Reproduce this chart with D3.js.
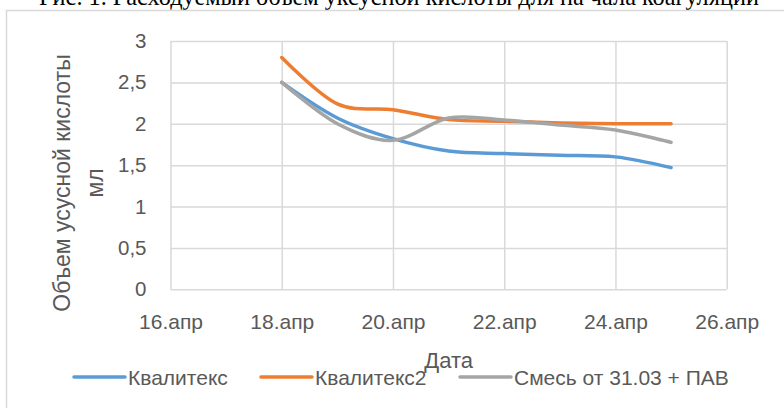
<!DOCTYPE html>
<html>
<head>
<meta charset="utf-8">
<script src="https://cdn.jsdelivr.net/npm/d3@7"></script>
<style>
  html, body { margin: 0; padding: 0; background: #fff; }
  svg { display: block; }
</style>
</head>
<body>
<svg id="chart" width="784" height="408"></svg>
<script>
// Measurement days (April) and the acetic acid volume used, ml
const days = ["2021-04-18", "2021-04-19", "2021-04-20", "2021-04-21", "2021-04-22", "2021-04-23", "2021-04-24", "2021-04-25"];
const kvalitex  = [2.5, 2.07, 1.82, 1.67, 1.64, 1.62, 1.60, 1.47];
const kvalitex2 = [2.8, 2.24, 2.17, 2.05, 2.03, 2.01, 2.0, 2.0];
const smes      = [2.5, 2.0, 1.8, 2.07, 2.045, 1.985, 1.925, 1.775];

const seriesNames = ["Квалитекс", "Квалитекс2", "Смесь от 31.03 + ПАВ"];
const seriesColors = ["#5B9BD5", "#ED7D31", "#A5A5A5"];

const xTickDays = ["2021-04-16", "2021-04-18", "2021-04-20", "2021-04-22", "2021-04-24", "2021-04-26"];
const xTickLabels = ["16.апр", "18.апр", "20.апр", "22.апр", "24.апр", "26.апр"];
const yTicks = [0, 0.5, 1, 1.5, 2, 2.5, 3];
const yTickLabels = ["0", "0,5", "1", "1,5", "2", "2,5", "3"];

const titleText = "Рис. 1. Расходуемый объем уксусной кислоты для на чала коагуляции";
const yTitleLines = ["Объем усусной кислоты", "мл"];
const xTitle = "Дата";

const parse = d3.utcParse("%Y-%m-%d");
const svg = d3.select("#chart");
const sans = "'Liberation Sans', Arial, sans-serif";

const plot = { left: 170.5, right: 726.7, top: 41, bottom: 289.3 };

const x = d3.scaleUtc()
  .domain([parse(xTickDays[0]), parse(xTickDays[xTickDays.length - 1])])
  .range([plot.left, plot.right]);
const y = d3.scaleLinear().domain([0, 3]).range([plot.bottom, plot.top]);

// caption above the chart frame
svg.append("text")
  .attr("x", 399).attr("y", 5)
  .attr("text-anchor", "middle")
  .attr("font-family", "'Liberation Serif', 'Times New Roman', serif")
  .attr("font-size", 24.3)
  .attr("fill", "#000")
  .text(titleText);

// chart frame
svg.append("rect")
  .attr("x", 6.5).attr("y", 10.5)
  .attr("width", 820).attr("height", 420)
  .attr("fill", "none")
  .attr("stroke", "#d9d9d9")
  .attr("stroke-width", 1.5);

// horizontal gridlines
svg.append("g")
  .attr("transform", `translate(${plot.left},0)`)
  .call(d3.axisLeft(y).tickValues(yTicks).tickSize(-(plot.right - plot.left)).tickFormat(""))
  .call(g => g.select(".domain").remove())
  .call(g => g.selectAll("line").attr("stroke", "#d9d9d9").attr("stroke-width", 1.5));

// vertical gridlines
svg.append("g")
  .attr("transform", `translate(0,${plot.bottom})`)
  .call(d3.axisBottom(x).tickValues(xTickDays.map(parse)).tickSize(-(plot.bottom - plot.top)).tickFormat(""))
  .call(g => g.select(".domain").remove())
  .call(g => g.selectAll("line").attr("stroke", "#d9d9d9").attr("stroke-width", 1.5));

// y tick labels
svg.append("g")
  .attr("transform", `translate(${plot.left},0)`)
  .call(d3.axisLeft(y).tickValues(yTicks).tickSize(0).tickPadding(24)
    .tickFormat((d, i) => yTickLabels[i]))
  .call(g => g.select(".domain").remove())
  .call(g => g.selectAll("text")
    .attr("font-family", sans).attr("font-size", 20.5).attr("fill", "#595959"));

// x tick labels
svg.append("g")
  .attr("transform", `translate(0,${plot.bottom})`)
  .call(d3.axisBottom(x).tickValues(xTickDays.map(parse)).tickSize(0).tickPadding(25)
    .tickFormat((d, i) => xTickLabels[i]))
  .call(g => g.select(".domain").remove())
  .call(g => g.selectAll("text")
    .attr("font-family", sans).attr("font-size", 21).attr("fill", "#595959"));

// axis titles
const yTitle = svg.append("text")
  .attr("transform", "translate(70,183) rotate(-90)")
  .attr("text-anchor", "middle")
  .attr("font-family", sans).attr("font-size", 23).attr("fill", "#595959");
yTitleLines.forEach((t, i) => {
  yTitle.append("tspan").attr("x", 0).attr("dy", i === 0 ? 0 : 33).text(t);
});

svg.append("text")
  .attr("x", (plot.left + plot.right) / 2).attr("y", 368)
  .attr("text-anchor", "middle")
  .attr("font-family", sans).attr("font-size", 22).attr("fill", "#595959")
  .text(xTitle);

// series lines
const allSeries = [kvalitex, kvalitex2, smes];
const line = d3.line()
  .x((d, i) => x(parse(days[i])))
  .y(d => y(d))
  .curve(d3.curveCatmullRom.alpha(0));

svg.append("g").selectAll("path")
  .data(allSeries)
  .join("path")
  .attr("d", d => line(d))
  .attr("fill", "none")
  .attr("stroke", (d, i) => seriesColors[i])
  .attr("stroke-width", 3.5)
  .attr("stroke-linecap", "round")
  .attr("stroke-linejoin", "round");

// legend
const legendX = [74, 261, 460];
const legend = svg.append("g").attr("transform", "translate(0,377)");
seriesNames.forEach((name, i) => {
  legend.append("line")
    .attr("x1", legendX[i]).attr("x2", legendX[i] + 51)
    .attr("y1", 0).attr("y2", 0)
    .attr("stroke", seriesColors[i]).attr("stroke-width", 3.5)
    .attr("stroke-linecap", "round");
  legend.append("text")
    .attr("x", legendX[i] + 54).attr("y", 7.5)
    .attr("font-family", sans).attr("font-size", 21).attr("fill", "#595959")
    .text(name);
});
</script>
</body>
</html>
